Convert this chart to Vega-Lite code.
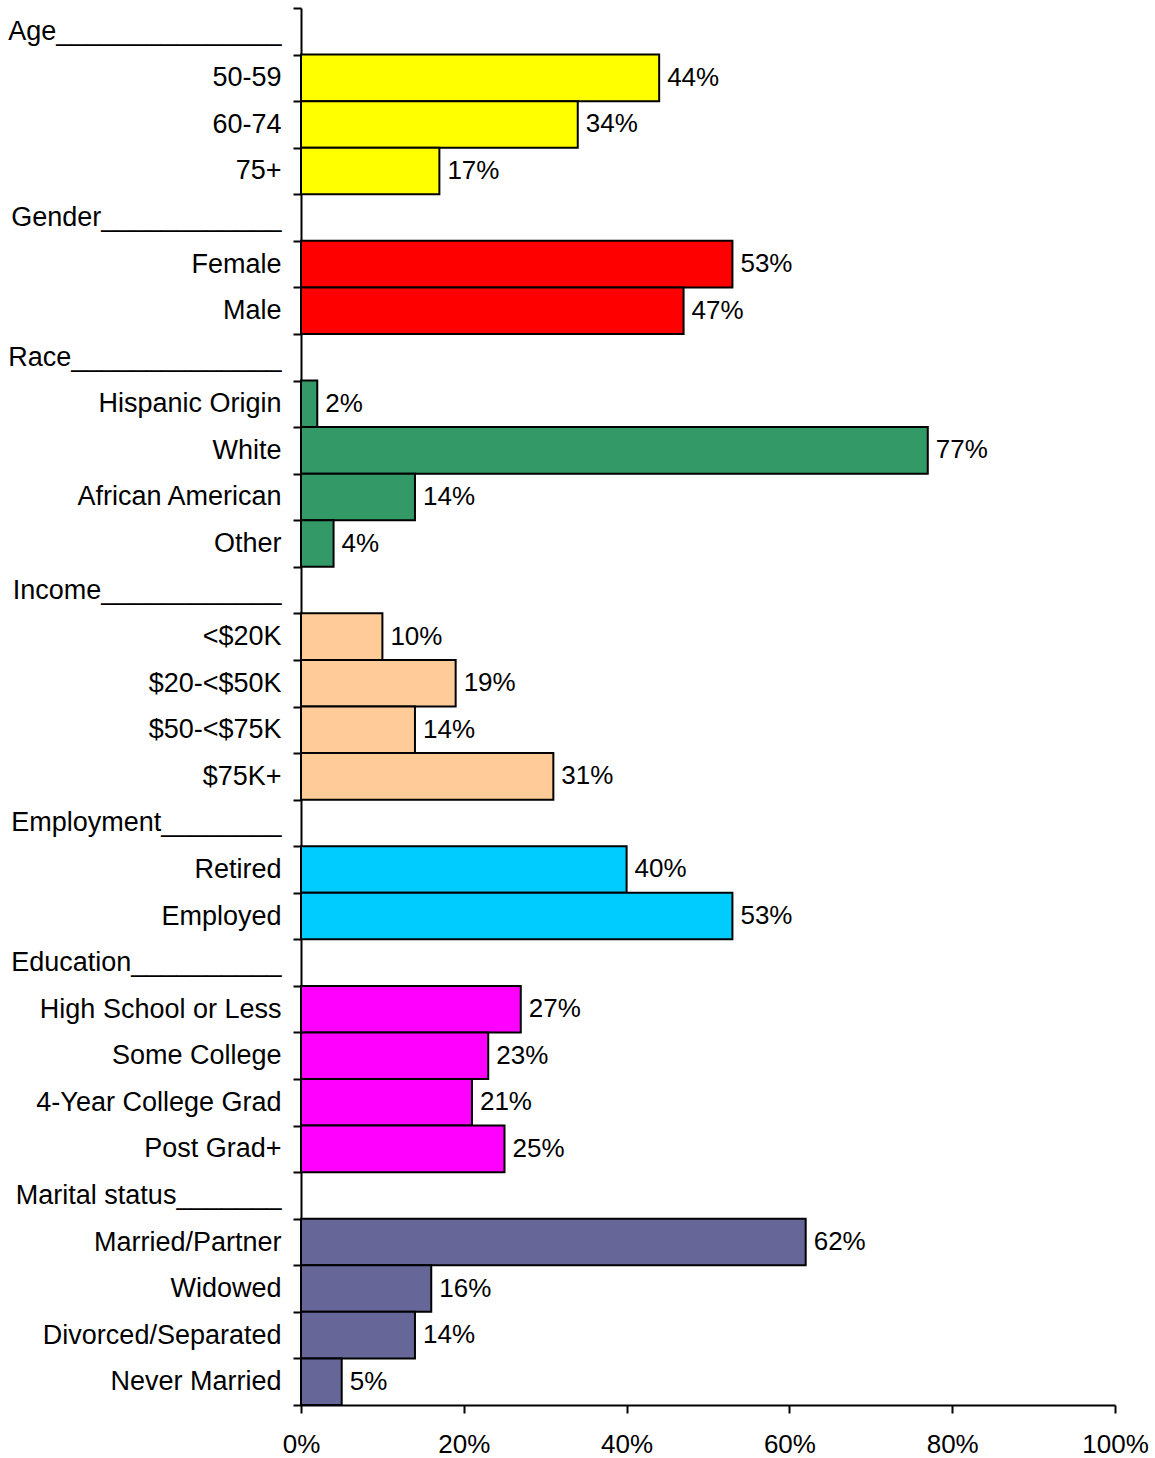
{
  "$schema": "https://vega.github.io/schema/vega-lite/v6.json",
  "autosize": "none",
  "padding": {"left": 301, "top": 8, "right": 40, "bottom": 53},
  "width": 814,
  "height": 1397,
  "background": "white",
  "config": {
    "view": {"stroke": null},
    "font": "Liberation Sans",
    "axis": {"labelFont": "Liberation Sans", "labelFontSize": 26, "labelColor": "black", "domainColor": "black", "tickColor": "black", "domainWidth": 2, "tickWidth": 2, "tickSize": 8, "grid": false, "title": null}
  },
  "data": {
    "values": [
      {"label": "Age_______________", "group": "Age", "value": null},
      {"label": "50-59", "group": "Age", "value": 0.44},
      {"label": "60-74", "group": "Age", "value": 0.34},
      {"label": "75+", "group": "Age", "value": 0.17},
      {"label": "Gender____________", "group": "Gender", "value": null},
      {"label": "Female", "group": "Gender", "value": 0.53},
      {"label": "Male", "group": "Gender", "value": 0.47},
      {"label": "Race______________", "group": "Race", "value": null},
      {"label": "Hispanic Origin", "group": "Race", "value": 0.02},
      {"label": "White", "group": "Race", "value": 0.77},
      {"label": "African American", "group": "Race", "value": 0.14},
      {"label": "Other", "group": "Race", "value": 0.04},
      {"label": "Income____________", "group": "Income", "value": null},
      {"label": "<$20K", "group": "Income", "value": 0.10},
      {"label": "$20-<$50K", "group": "Income", "value": 0.19},
      {"label": "$50-<$75K", "group": "Income", "value": 0.14},
      {"label": "$75K+", "group": "Income", "value": 0.31},
      {"label": "Employment________", "group": "Employment", "value": null},
      {"label": "Retired", "group": "Employment", "value": 0.40},
      {"label": "Employed", "group": "Employment", "value": 0.53},
      {"label": "Education__________", "group": "Education", "value": null},
      {"label": "High School or Less", "group": "Education", "value": 0.27},
      {"label": "Some College", "group": "Education", "value": 0.23},
      {"label": "4-Year College Grad", "group": "Education", "value": 0.21},
      {"label": "Post Grad+", "group": "Education", "value": 0.25},
      {"label": "Marital status_______", "group": "Marital", "value": null},
      {"label": "Married/Partner", "group": "Marital", "value": 0.62},
      {"label": "Widowed", "group": "Marital", "value": 0.16},
      {"label": "Divorced/Separated", "group": "Marital", "value": 0.14},
      {"label": "Never Married", "group": "Marital", "value": 0.05}
    ]
  },
  "encoding": {
    "y": {
      "field": "label",
      "type": "nominal",
      "sort": null,
      "scale": {
        "domain": ["Age_______________", "50-59", "60-74", "75+", "Gender____________", "Female", "Male", "Race______________", "Hispanic Origin", "White", "African American", "Other", "Income____________", "<$20K", "$20-<$50K", "$50-<$75K", "$75K+", "Employment________", "Retired", "Employed", "Education__________", "High School or Less", "Some College", "4-Year College Grad", "Post Grad+", "Marital status_______", "Married/Partner", "Widowed", "Divorced/Separated", "Never Married"],
        "paddingInner": 0,
        "paddingOuter": 0
      },
      "axis": {"tickBand": "extent", "labelPadding": 12, "labelLimit": 400, "labelFontSize": 27}
    },
    "x": {
      "field": "value",
      "type": "quantitative",
      "scale": {"domain": [0, 1], "nice": false},
      "axis": {"values": [0, 0.2, 0.4, 0.6, 0.8, 1], "format": ".0%", "labelPadding": 18, "labelFlush": false}
    }
  },
  "layer": [
    {
      "mark": {"type": "bar", "stroke": "black", "strokeWidth": 2, "cornerRadius": 0},
      "encoding": {
        "color": {
          "field": "group",
          "type": "nominal",
          "scale": {
            "domain": ["Age", "Gender", "Race", "Income", "Employment", "Education", "Marital"],
            "range": ["#FFFF00", "#FF0000", "#339966", "#FFCC99", "#00CCFF", "#FF00FF", "#666699"]
          },
          "legend": null
        }
      }
    },
    {
      "transform": [{"filter": "datum.value != null"}],
      "mark": {"type": "text", "align": "left", "baseline": "middle", "dx": 8, "fontSize": 26, "font": "Liberation Sans", "color": "black"},
      "encoding": {
        "text": {"field": "value", "type": "quantitative", "format": ".0%"}
      }
    }
  ]
}
